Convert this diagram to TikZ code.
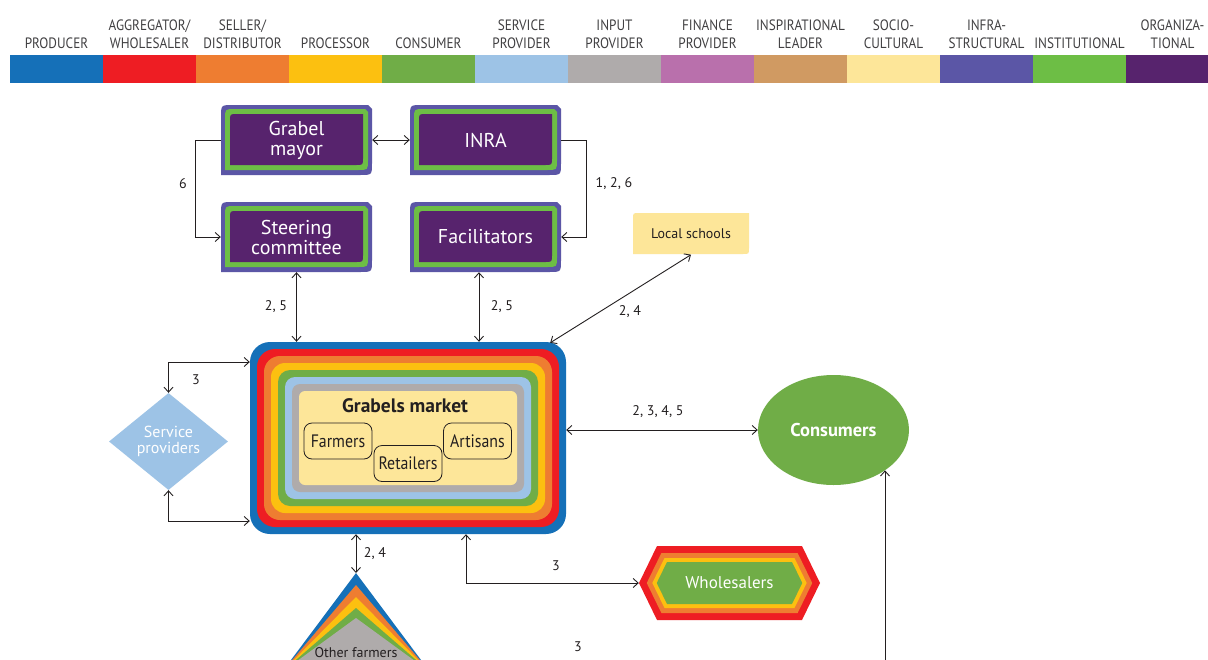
\documentclass[tikz,border=0pt]{standalone}
\usepackage{fontspec}
\setmainfont{PT Sans}
\newfontfamily\narrowfont[FakeStretch=0.88]{PT Sans}
\usetikzlibrary{arrows.meta,shapes.geometric,calc}

% actor-type palette
\definecolor{cProducer}{HTML}{1570B8}
\definecolor{cAggregator}{HTML}{EE1D23}
\definecolor{cSeller}{HTML}{EE7D31}
\definecolor{cProcessor}{HTML}{FCC010}
\definecolor{cConsumer}{HTML}{70AD47}
\definecolor{cService}{HTML}{9DC3E6}
\definecolor{cInput}{HTML}{AFABAB}
\definecolor{cFinance}{HTML}{B970AC}
\definecolor{cInspire}{HTML}{D09A62}
\definecolor{cSocio}{HTML}{FDE699}
\definecolor{cInfra}{HTML}{5B56A6}
\definecolor{cInstit}{HTML}{6DBE45}
\definecolor{cOrg}{HTML}{57236D}
\definecolor{cLine}{HTML}{231F20}
\definecolor{cLegend}{HTML}{414042}

% box with rounded top-left / bottom-right corners and a small bevel top-right
% #1 x1, #2 y1, #3 x2, #4 y2, #5 big radius, #6 bevel, #7 colour
\newcommand\cornerfill[7]{%
  \fill[#7] (#1,#2+#5) .. controls (#1,#2) .. (#1+#5,#2) -- (#3-#6,#2) -- (#3,#2+#6)
    -- (#3,#4-#5) .. controls (#3,#4) .. (#3-#5,#4) -- (#1,#4) -- cycle;}

% organisational actor: infrastructural / institutional / organizational frames
\newcommand\orgbox[4]{%
  \cornerfill{#1}{#2}{#1+151}{#2+70}{12}{4}{cInfra}
  \cornerfill{#1+4}{#2+4}{#1+147}{#2+65}{10}{3}{cInstit}
  \cornerfill{#1+9}{#2+9}{#1+142}{#2+60}{7}{0}{cOrg}
  \node[orglabel, minimum width=151pt, minimum height=70pt] (#3) at (#1+75.5,#2+35) {#4};}

% one ring of the wholesalers hexagon, inset by #1
\newcommand\hexlayer[2]{%
  \fill[#2] (639+1.11*#1,583) -- (657+0.626*#1,546+#1) -- (802-0.626*#1,546+#1)
    -- (820-1.11*#1,583) -- (802-0.626*#1,620-#1) -- (657+0.626*#1,620-#1) -- cycle;}

\begin{document}
\begin{tikzpicture}[x=1pt,y=-1pt,
  conn/.style={draw=cLine, line width=0.9pt, >={Straight Barb[length=5pt,width=9pt]}},
  lbl/.style={font=\fontsize{14}{16}\selectfont, text=cLine, inner sep=0},
  legend/.style={font=\narrowfont\fontsize{15}{17}\selectfont, text=cLegend, inner sep=0, anchor=base},
  orglabel/.style={font=\fontsize{20}{20}\selectfont, text=white, align=center, inner sep=0},
  member/.style={draw=cLine, line width=0.8pt, rounded corners=8pt, minimum width=68pt,
    minimum height=36pt, inner sep=0, font=\narrowfont\fontsize{18}{20}\selectfont, text=cLine}]
\useasboundingbox (0,0) rectangle (1208,659);
\clip (0,0) rectangle (1208,659);
\fill[white] (0,0) rectangle (1208,659);

% legend bar
\foreach \k/\c/\a/\b in {
  0/cProducer/{}/{PRODUCER},
  1/cAggregator/{AGGREGATOR/}/{WHOLESALER},
  2/cSeller/{SELLER/}/{DISTRIBUTOR},
  3/cProcessor/{}/{PROCESSOR},
  4/cConsumer/{}/{CONSUMER},
  5/cService/{SERVICE}/{PROVIDER},
  6/cInput/{INPUT}/{PROVIDER},
  7/cFinance/{FINANCE}/{PROVIDER},
  8/cInspire/{INSPIRATIONAL}/{LEADER},
  9/cSocio/{SOCIO-}/{CULTURAL},
  10/cInfra/{INFRA-}/{STRUCTURAL},
  11/cInstit/{}/{INSTITUTIONAL},
  12/cOrg/{ORGANIZA-}/{TIONAL}}{
  \fill[\c] (10+93*\k,55) rectangle (103+93*\k,83);
  \node[legend] (legA\k) at (56.5+93*\k,30.5) {\a};
  \node[legend] (legB\k) at (56.5+93*\k,48.5) {\b};
}

% governance actors
\orgbox{221}{105}{mayor}{Grabel\\mayor}
\orgbox{410}{105}{inra}{INRA}
\orgbox{221}{202}{steer}{Steering\\committee}
\orgbox{410}{202}{facil}{Facilitators}

% local schools
\cornerfill{633}{213}{749}{254}{6}{0}{cSocio}
\node[lbl, font=\fontsize{14}{16}\selectfont, minimum width=116pt, minimum height=41pt] (schools) at (691,234) {Local schools};

% Grabels market: nested rings
\foreach \c [count=\k from 0] in {cProducer,cAggregator,cSeller,cProcessor,cConsumer,cService,cInput,cSocio}{
  \pgfmathsetmacro\r{20-2*\k}
  \fill[\c, rounded corners=\r pt] (250+7*\k,342+7*\k) rectangle (566-7*\k,534-7*\k);
}
\node[minimum width=316pt, minimum height=192pt, inner sep=0] (market) at (408,438) {};
\node[font=\bfseries\fontsize{19.5}{22}\selectfont, text=cLine, inner sep=0] (mtitle) at (405,406) {Grabels market};
\node[member] (farmers) at (338,441) {Farmers};
\node[member] (retail) at (408,463.5) {Retailers};
\node[member] (artis) at (477.5,441) {Artisans};

% consumers
\node[ellipse, fill=cConsumer, minimum width=151pt, minimum height=110pt, inner sep=0,
  text=white, font=\bfseries\fontsize{18.5}{20}\selectfont] (cons) at (833.5,430) {Consumers};

% service providers
\node[diamond, aspect=1.23, fill=cService, minimum width=119pt, minimum height=97pt, inner sep=0,
  text=white, align=center, font=\fontsize{16}{16.5}\selectfont] (sp) at (168.5,441.5) {Service\\providers};

% other farmers
\foreach \c/\ay in {cProducer/573, cSeller/585, cProcessor/597, cConsumer/608, cInput/618}{
  \fill[\c] (356,\ay) -- (430,672) -- (282,672) -- cycle;
}
\coordinate (ofapex) at (356,573);
\node[lbl, anchor=base] (others) at (356,657) {Other farmers};

% wholesalers
\hexlayer{0}{cAggregator}
\hexlayer{7}{cSeller}
\hexlayer{12}{cProcessor}
\hexlayer{16}{cConsumer}
\node[minimum width=181pt, minimum height=74pt, inner sep=0, text=white,
  font=\fontsize{17}{20}\selectfont] (whole) at (729.5,583) {Wholesalers};

% connectors
\draw[conn,<->] (mayor.east) -- (inra.west);
\draw[conn,->] (mayor.west) -- ++(-25,0) |- (steer.west);
\draw[conn,->] (inra.east) -- ++(25,0) |- (facil.east);
\draw[conn,<->] (steer.south) -- (steer.south |- market.north);
\draw[conn,<->] ($(facil.south)+(-6.5,0)$) -- ($(facil.south |- market.north)+(-6.5,0)$);
\draw[conn,<->] ($(market.north east)+(-16,1)$) -- (schools.south);
\draw[conn,<->] (market.east |- cons.west) -- (cons.west);
\draw[conn,<->] (sp.north) |- ($(market.west)+(0,-76)$);
\draw[conn,<->] (sp.south) |- ($(market.west)+(0,83)$);
\draw[conn,<->] (market.south -| ofapex) -- (ofapex);
\draw[conn,<->] ($(market.south)+(58,0)$) |- (whole.west);
\coordinate (consfeed) at (885,670);
\draw[conn,->] (consfeed) -- (consfeed |- cons.-38);

% connector labels
\node[lbl] (l6) at (183,184) {6};
\node[lbl] (l126) at (614,184) {1, 2, 6};
\node[lbl] (l25a) at (276,307) {2, 5};
\node[lbl] (l25b) at (502,307) {2, 5};
\node[lbl] (l24a) at (630,312) {2, 4};
\node[lbl] (l2345) at (658,412) {2, 3, 4, 5};
\node[lbl] (l3a) at (196,380) {3};
\node[lbl] (l24b) at (375,554) {2, 4};
\node[lbl] (l3b) at (556,566) {3};
\node[lbl] (l3c) at (578,647) {3};
\end{tikzpicture}
\end{document}
